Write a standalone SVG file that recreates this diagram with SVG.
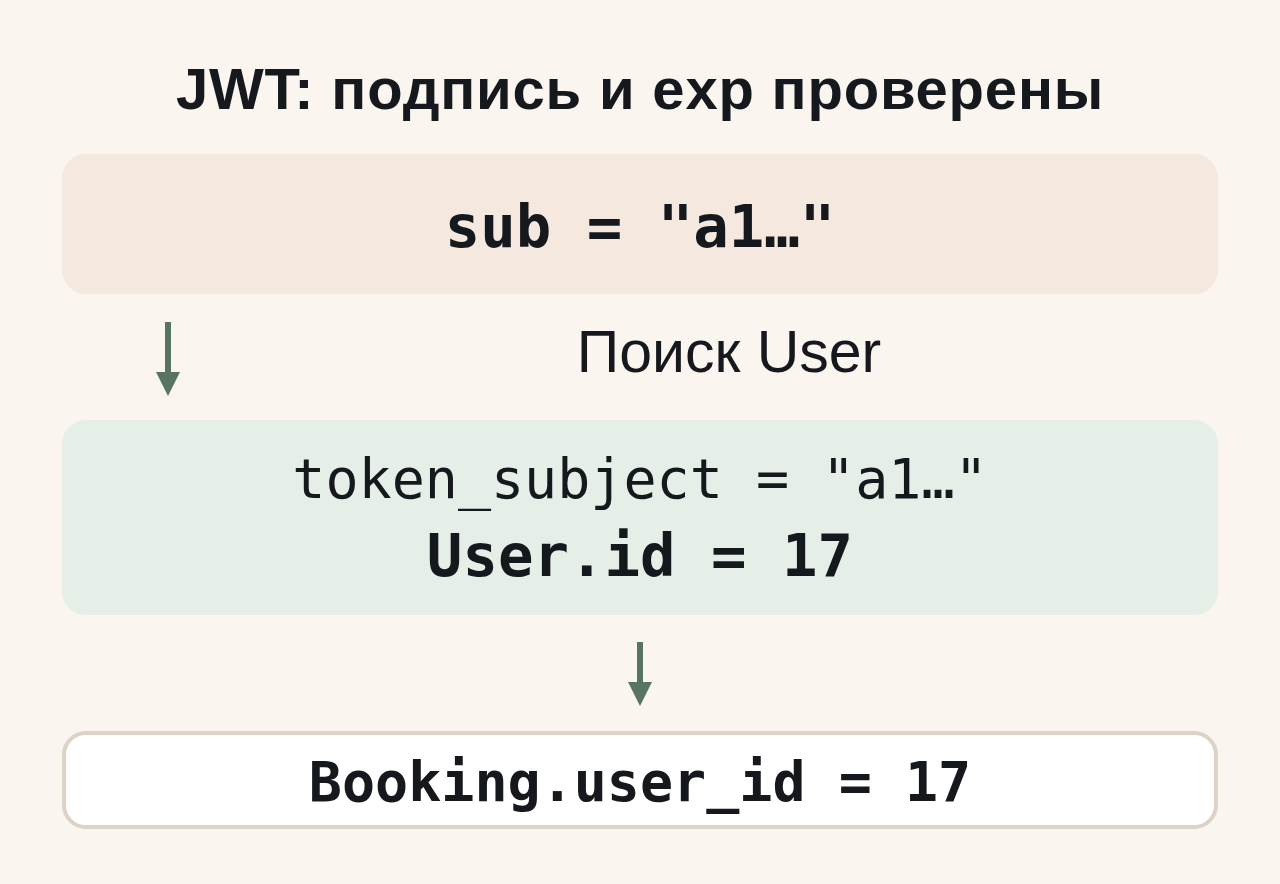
<svg xmlns="http://www.w3.org/2000/svg" width="1280" height="884" viewBox="0 0 1280 884">
<style>
.mono{font-family:"DejaVu Sans Mono","Liberation Mono",monospace;fill:#15181c}
.b{font-weight:bold}
.sans{font-family:"Liberation Sans",Arial,sans-serif;fill:#15181c}
.shaft{stroke:#587563;stroke-width:6;fill:none}
.head{fill:#587563}
</style>
<rect width="1280" height="884" fill="#faf5ef"/>
<g id="title"><text class="sans b" x="640" y="109" font-size="58" letter-spacing="0.8" text-anchor="middle">JWT: подпись и exp проверены</text></g>
<g id="node-sub">
<rect x="62" y="154" width="1156" height="140" rx="24" fill="#f4e8df"/>
<text class="mono b" x="640" y="247" font-size="59" text-anchor="middle">sub = "a1…"</text>
</g>
<g id="node-user">
<rect x="62" y="420" width="1156" height="195" rx="24" fill="#e6efe7"/>
<text class="mono" x="640" y="498" font-size="55" text-anchor="middle">token_subject = "a1…"</text>
<text class="mono b" x="640" y="576" font-size="59" text-anchor="middle">User.id = 17</text>
</g>
<g id="node-booking">
<rect x="64" y="733" width="1152" height="94" rx="22" fill="#ffffff" stroke="#ddd3c5" stroke-width="4"/>
<text class="mono b" x="640" y="801" font-size="55" text-anchor="middle">Booking.user_id = 17</text>
</g>
<g id="connectors">
<line class="shaft" x1="168" y1="322" x2="168" y2="374"/>
<path class="head" d="M156 372 L180 372 L168 396 Z"/>
<line class="shaft" x1="640" y1="642" x2="640" y2="684"/>
<path class="head" d="M628 682 L652 682 L640 706 Z"/>
</g>
<g id="label"><text class="sans" x="729" y="372" font-size="59" text-anchor="middle">Поиск User</text></g>
</svg>
